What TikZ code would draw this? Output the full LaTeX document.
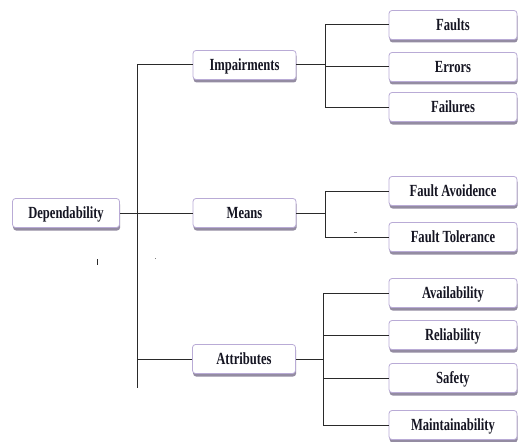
\documentclass[tikz,border=0pt]{standalone}
\usepackage{fontspec}
\setmainfont{Liberation Serif}[FakeStretch=0.74]
\usetikzlibrary{shadows}
\definecolor{boxedge}{HTML}{B9ABD6}
\definecolor{shadowc}{HTML}{948CA2}
\definecolor{linec}{HTML}{2A2A2A}
\definecolor{textc}{HTML}{151522}
\begin{document}
\begin{tikzpicture}[x=1pt,y=-1pt,
  box/.style={draw=boxedge, line width=0.8pt, fill=white, rounded corners=3pt,
    drop shadow={shadow xshift=0.6pt, shadow yshift=-3pt, fill=shadowc, opacity=1},
    font=\fontsize{17}{17}\selectfont\bfseries, text=textc, inner sep=0pt,
    text depth=0.15ex, minimum height=29pt},
  leaf/.style={box, minimum width=128pt},
  mid/.style={box, minimum width=103pt},
  conn/.style={draw=linec, line width=1pt}]
\useasboundingbox (0,0) rectangle (518,441);
% nodes
\node[box, minimum width=107pt] (dep) at (66,213) {Dependability};
\node[mid] (imp) at (244.5,65) {Impairments};
\node[mid] (means) at (244.5,213) {Means};
\node[mid] (attr) at (244,359) {Attributes};
\node[leaf] (faults) at (453,25) {Faults};
\node[leaf] (errors) at (453,67) {Errors};
\node[leaf] (failures) at (453,107) {Failures};
\node[leaf] (avoid) at (453,191) {Fault Avoidence};
\node[leaf] (toler) at (453,237) {Fault Tolerance};
\node[leaf] (avail) at (453,293) {Availability};
\node[leaf] (reli) at (453,335) {Reliability};
\node[leaf] (safety) at (453,378) {Safety};
\node[leaf] (maint) at (453,425) {Maintainability};
% main trunk
\coordinate (t0) at (137,65);
\coordinate (t1) at (137,388);
\draw[conn] (t0) -- (t1);
\draw[conn] (t0) -- (imp.west);
\draw[conn] (dep.east) -- (means.west);
\draw[conn] (attr.west -| t0) -- (attr.west);
% impairments branch
\coordinate (j1) at (325,65);
\draw[conn] (imp.east) -- (j1);
\draw[conn] (faults.west -| j1) -- (failures.west -| j1);
\draw[conn] (faults.west -| j1) -- (faults.west);
\draw[conn] (errors.west -| j1) -- (errors.west);
\draw[conn] (failures.west -| j1) -- (failures.west);
% means branch
\coordinate (j2) at (325,213);
\draw[conn] (means.east) -- (j2);
\draw[conn] (avoid.west -| j2) -- (toler.west -| j2);
\draw[conn] (avoid.west -| j2) -- (avoid.west);
\draw[conn] (toler.west -| j2) -- (toler.west);
% attributes branch
\coordinate (j3) at (323,359);
\draw[conn] (attr.east) -- (j3);
\draw[conn] (avail.west -| j3) -- (maint.west -| j3);
\draw[conn] (avail.west -| j3) -- (avail.west);
\draw[conn] (reli.west -| j3) -- (reli.west);
\draw[conn] (safety.west -| j3) -- (safety.west);
\draw[conn] (maint.west -| j3) -- (maint.west);
% stray marks
\fill[linec] (96.5,259) rectangle (97.8,265);
\fill[linec!60] (154.5,257.5) rectangle (155.5,258.5);
\fill[linec!70] (354,231.5) rectangle (356.5,232.5);
\end{tikzpicture}
\end{document}
